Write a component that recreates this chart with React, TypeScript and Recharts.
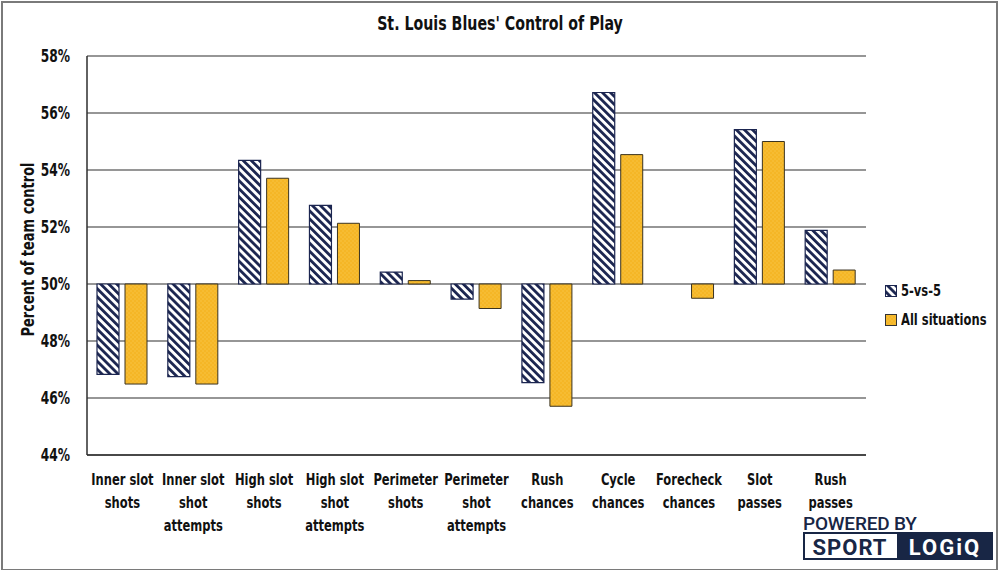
import React from 'react';
import { BarChart, Bar, XAxis, YAxis, CartesianGrid, Legend } from 'recharts';

const title = "St. Louis Blues' Control of Play";
const yAxisLabel = 'Percent of team control';
const categories = [
  'Inner slot\nshots',
  'Inner slot\nshot\nattempts',
  'High slot\nshots',
  'High slot\nshot\nattempts',
  'Perimeter\nshots',
  'Perimeter\nshot\nattempts',
  'Rush\nchances',
  'Cycle\nchances',
  'Forecheck\nchances',
  'Slot\npasses',
  'Rush\npasses',
];
const fiveVsFive = [46.83, 46.75, 54.34, 52.76, 50.42, 49.47, 46.54, 56.72, 50.0, 55.42, 51.88];
const allSituations = [46.49, 46.49, 53.71, 52.13, 50.12, 49.14, 45.71, 54.54, 49.5, 55.0, 50.49];
const yTicks = [44, 46, 48, 50, 52, 54, 56, 58];
const baseValue = 50;
const seriesNames = ['5-vs-5', 'All situations'];

const toRange = (v: number) => [Math.min(baseValue, v), Math.max(baseValue, v)];

const data = categories.map((c, i) => ({
  name: c,
  five: toRange(fiveVsFive[i]),
  all: toRange(allSituations[i]),
}));

const NAVY = '#1b2550';
const LOGO = '#182645';
const GOLD = '#f5b626';
const FONT = "'DejaVu Sans Condensed', 'DejaVu Sans', sans-serif";
const LOGO_FONT = "Roboto, 'Open Sans', sans-serif";
const SQUEEZE = 0.8;

const XTick = (props: any) => {
  const { x, y, payload } = props;
  const lines = String(payload.value).split('\n');
  return (
    <g transform={`translate(${x},${y})`}>
      <text
        textAnchor="middle"
        fontFamily={FONT}
        fontWeight={700}
        fontSize={16}
        fill="#111"
        y={30}
        transform={`scale(${SQUEEZE},1)`}
      >
        {lines.map((l, i) => (
          <tspan key={i} x={0} dy={i === 0 ? 0 : 23}>
            {l}
          </tspan>
        ))}
      </text>
    </g>
  );
};

const YTick = (props: any) => {
  const { x, y, payload } = props;
  return (
    <g transform={`translate(${x},${y})`}>
      <text
        textAnchor="end"
        dominantBaseline="central"
        fontFamily={FONT}
        fontWeight={700}
        fontSize={17}
        fill="#111"
        transform={`scale(${SQUEEZE},1)`}
      >
        {`${payload.value}%`}
      </text>
    </g>
  );
};

const YLabel = (props: any) => {
  const { viewBox } = props;
  const cy = viewBox.y + viewBox.height / 2 - 6;
  const cx = 28;
  return (
    <g transform={`translate(${cx},${cy}) rotate(-90)`}>
      <text
        textAnchor="middle"
        dominantBaseline="central"
        fontFamily={FONT}
        fontWeight={700}
        fontSize={17}
        fill="#111"
        transform="scale(0.85,1)"
      >
        {yAxisLabel}
      </text>
    </g>
  );
};

const LegendContent = (props: any) => {
  const { payload } = props;
  return (
    <div style={{ fontFamily: FONT, fontWeight: 700, fontSize: 16, color: '#111', whiteSpace: 'nowrap' }}>
      {(payload || []).map((p: any, i: number) => (
        <div key={i} style={{ display: 'flex', alignItems: 'center', height: 29 }}>
          <svg width={12} height={12} style={{ marginRight: 4, flex: 'none' }}>
            <rect x={0.5} y={0.5} width={11} height={11} fill={p.color} stroke={i === 0 ? NAVY : '#333'} strokeWidth={1} />
          </svg>
          <span style={{ display: 'inline-block', transform: `scaleX(${SQUEEZE})`, transformOrigin: 'left center' }}>
            {p.value}
          </span>
        </div>
      ))}
    </div>
  );
};

export default function App() {
  return (
    <div style={{ position: 'absolute', left: 0, top: 0, width: 1000, height: 570, background: '#fff', overflow: 'hidden' }}>
      <svg width={0} height={0} style={{ position: 'absolute' }}>
        <defs>
          <pattern id="stripes" patternUnits="userSpaceOnUse" width={5.7} height={5.7} patternTransform="rotate(-45)">
            <rect x={0} y={0} width={5.7} height={5.7} fill="#ffffff" />
            <rect x={0} y={0} width={2.8} height={5.7} fill={NAVY} />
          </pattern>
          <pattern id="dots" patternUnits="userSpaceOnUse" width={4} height={4}>
            <rect x={0} y={0} width={4} height={4} fill={GOLD} />
            <circle cx={1} cy={1} r={0.7} fill="#f8c64a" />
            <circle cx={3} cy={3} r={0.7} fill="#f8c64a" />
          </pattern>
        </defs>
      </svg>
      <div
        style={{
          position: 'absolute',
          left: 1,
          top: 1,
          width: 993,
          height: 566,
          border: '2px solid #7a7a7a',
          boxSizing: 'content-box',
        }}
      />
      <div
        style={{
          position: 'absolute',
          top: 12,
          left: 0,
          width: 1000,
          textAlign: 'center',
        }}
      >
        <span
          style={{
            display: 'inline-block',
            transform: 'scaleX(0.83)',
            fontFamily: FONT,
            fontWeight: 700,
            fontSize: 19,
            color: '#111',
            whiteSpace: 'nowrap',
          }}
        >
          {title}
        </span>
      </div>
      <div style={{ position: 'absolute', left: 0, top: 0 }}>
        <BarChart
          width={1000}
          height={570}
          data={data}
          margin={{ top: 56, right: 134, bottom: 0, left: 0 }}
          barSize={22}
          barGap={6}
        >
          <CartesianGrid vertical={false} stroke="#2e2e2e" strokeWidth={1.2} />
          <XAxis
            dataKey="name"
            height={115}
            interval={0}
            tickLine={false}
            tickSize={0}
            tickMargin={0}
            axisLine={{ stroke: '#2e2e2e', strokeWidth: 1.5 }}
            tick={<XTick />}
          />
          <YAxis
            width={87}
            domain={[44, 58]}
            ticks={yTicks}
            allowDataOverflow
            tickLine={false}
            tickSize={0}
            tickMargin={17}
            axisLine={{ stroke: '#2e2e2e', strokeWidth: 1.5 }}
            tick={<YTick />}
            label={<YLabel />}
          />
          <YAxis
            yAxisId="right"
            orientation="right"
            width={0}
            domain={[44, 58]}
            tick={false}
            tickLine={false}
            axisLine={{ stroke: '#2e2e2e', strokeWidth: 1.5 }}
          />
          <Legend
            layout="vertical"
            align="center"
            verticalAlign="middle"
            content={<LegendContent />}
            wrapperStyle={{ position: 'absolute', left: 885, top: 276, width: 112 }}
          />
          <Bar
            dataKey="five"
            name={seriesNames[0]}
            fill="url(#stripes)"
            stroke={NAVY}
            strokeWidth={1.2}
            isAnimationActive={false}
            legendType="square"
          />
          <Bar
            dataKey="all"
            name={seriesNames[1]}
            fill="url(#dots)"
            stroke="#3a3320"
            strokeWidth={1}
            isAnimationActive={false}
            legendType="square"
          />
        </BarChart>
      </div>
      <svg width={200} height={60} style={{ position: 'absolute', left: 800, top: 505 }}>
        <text x={3} y={24.5} fontFamily={LOGO_FONT} fontWeight={500} fontSize={19} fill={LOGO} letterSpacing={-0.2}>
          POWERED BY
        </text>
        <rect x={4} y={28} width={188} height={26} fill="#fff" stroke={LOGO} strokeWidth={2} />
        <rect x={97} y={27} width={96} height={28} fill={LOGO} />
        <text x={50} y={49.5} textAnchor="middle" fontFamily={LOGO_FONT} fontWeight={700} fontSize={22} fill={LOGO} letterSpacing={1}>
          SPORT
        </text>
        <text x={145} y={49.5} textAnchor="middle" fontFamily={LOGO_FONT} fontWeight={700} fontSize={22} fill="#fff" letterSpacing={2}>
          LOGiQ
        </text>
      </svg>
    </div>
  );
}
